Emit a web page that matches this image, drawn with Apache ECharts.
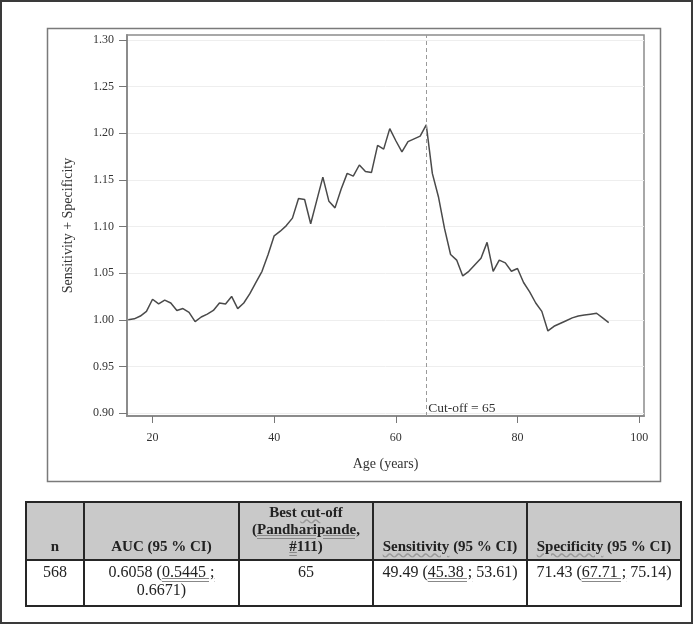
<!DOCTYPE html>
<html>
<head>
<meta charset="utf-8">
<script src="https://cdn.jsdelivr.net/npm/echarts@6/dist/echarts.min.js"></script>
<style>
html,body{margin:0;padding:0;background:#fff;}
#wrap{position:relative;width:693px;height:624px;overflow:hidden;}
#chart{position:absolute;left:0;top:0;width:693px;height:624px;}
table.res{position:absolute;left:25px;top:501px;border-collapse:collapse;font-family:"Liberation Serif","Times New Roman",serif;color:#222;table-layout:fixed;}
table.res td{border:2px solid #262626;text-align:center;padding:0 2px;}
table.res tr.h td{background:#c9c9c9;font-weight:bold;font-size:15px;line-height:17px;vertical-align:bottom;padding-bottom:4px;height:52px;}
table.res tr.b td{font-size:16px;line-height:18px;vertical-align:top;padding-top:2px;height:42px;}
.dbl{text-decoration:underline double #888;}
.wav{text-decoration:underline wavy #999;}
</style>
</head>
<body>
<div id="wrap">
<div id="chart"></div>
<table class="res">
<colgroup><col style="width:58px"><col style="width:155px"><col style="width:134px"><col style="width:154px"><col style="width:154px"></colgroup>
<tr class="h"><td>n</td><td>AUC (95 % CI)</td><td>Best <span class="wav">cut</span>-off<br>(<span class="dbl">Pandharipande,</span><br><span class="dbl">#</span>111)</td><td><span class="wav">Sensitivity</span> (95 % CI)</td><td><span class="wav">Specificity</span> (95 % CI)</td></tr>
<tr class="b"><td>568</td><td>0.6058 (<span class="dbl">0.5445 ;</span><br>0.6671)</td><td>65</td><td>49.49 (<span class="dbl">45.38 ;</span> 53.61)</td><td>71.43 (<span class="dbl">67.71 ;</span> 75.14)</td></tr>
</table>
</div>
<script>
var ages = [16,17,18,19,20,21,22,23,24,25,26,27,28,29,30,31,32,33,34,35,36,37,38,39,40,41,42,43,44,45,46,47,48,49,50,51,52,53,54,55,56,57,58,59,60,61,62,63,64,65,66,67,68,69,70,71,72,73,74,75,76,77,78,79,80,81,82,83,84,85,86,87,88,89,90,91,92,93,94,95];
var sumSensSpec = [1.000,1.001,1.004,1.009,1.022,1.017,1.021,1.018,1.010,1.012,1.008,0.998,1.003,1.006,1.010,1.018,1.017,1.025,1.012,1.018,1.028,1.040,1.052,1.070,1.090,1.095,1.101,1.109,1.130,1.129,1.103,1.128,1.153,1.127,1.120,1.140,1.157,1.154,1.166,1.159,1.158,1.187,1.183,1.205,1.192,1.180,1.191,1.194,1.197,1.209,1.157,1.132,1.098,1.070,1.064,1.047,1.052,1.059,1.066,1.083,1.052,1.064,1.061,1.052,1.055,1.040,1.030,1.018,1.009,0.988,0.993,0.996,0.999,1.002,1.004,1.005,1.006,1.007,1.002,0.997];
var xTicks = [20,40,60,80,100];
var yTicks = [0.90,0.95,1.00,1.05,1.10,1.15,1.20,1.25,1.30];
var cutoff = 65;
var cutoffLabel = 'Cut-off = 65';

var serif = '"Liberation Serif","Times New Roman",serif';
var chart = echarts.init(document.getElementById('chart'), null, {renderer:'canvas'});
var pts = ages.map(function(a,i){return [a, sumSensSpec[i]];});
chart.setOption({
  animation:false,
  backgroundColor:'#fff',
  graphic:[
    {type:'rect', shape:{x:1,y:1,width:691,height:622}, style:{fill:'none', stroke:'#3a3a3a', lineWidth:2}, z:0},
    {type:'rect', shape:{x:47.5,y:28.5,width:613,height:453}, style:{fill:'none', stroke:'#7a7a7a', lineWidth:1.5}, z:0}
  ],
  grid:{left:127, top:35, right:49, bottom:208, show:true, borderColor:'#8c8c8c', borderWidth:1.5, backgroundColor:'transparent'},
  xAxis:{
    type:'value', min:15.8, max:100.8,
    name:'Age (years)', nameLocation:'middle', nameGap:41,
    nameTextStyle:{fontFamily:serif, fontSize:14, color:'#333'},
    axisLine:{show:true, lineStyle:{color:'#8c8c8c', width:2}},
    axisTick:{show:true, length:7, customValues:xTicks, lineStyle:{color:'#777', width:1}},
    axisLabel:{customValues:xTicks, margin:16, fontFamily:serif, fontSize:12, color:'#333'},
    splitLine:{show:false}
  },
  yAxis:{
    type:'value', min:0.8968, max:1.3054,
    name:'Sensitivity + Specificity', nameLocation:'middle', nameGap:52, nameRotate:90,
    nameTextStyle:{fontFamily:serif, fontSize:14, color:'#333'},
    axisLine:{show:true, lineStyle:{color:'#8c8c8c', width:2}},
    axisTick:{show:true, length:8, customValues:yTicks, lineStyle:{color:'#777', width:1}},
    axisLabel:{customValues:yTicks, margin:13, fontFamily:serif, fontSize:12, color:'#333', formatter:function(v){return v.toFixed(2);}},
    splitLine:{show:true, lineStyle:{color:'#eeeeee', width:1}}
  },
  series:[{
    type:'line', data:pts, symbol:'none', smooth:false,
    lineStyle:{color:'#4a4a4a', width:1.5},
    markLine:{
      silent:true, symbol:'none',
      lineStyle:{color:'#9a9a9a', type:[4,3], width:1},
      label:{show:false},
      data:[{xAxis:cutoff}]
    },
    markPoint:{
      silent:true, symbol:'circle', symbolSize:0,
      data:[{coord:[cutoff, 0.8968], value:cutoffLabel}],
      label:{show:true, position:'right', distance:2, offset:[0,-8], formatter:cutoffLabel, fontFamily:serif, fontSize:13.5, color:'#333'}
    }
  }]
});
</script>
</body>
</html>
